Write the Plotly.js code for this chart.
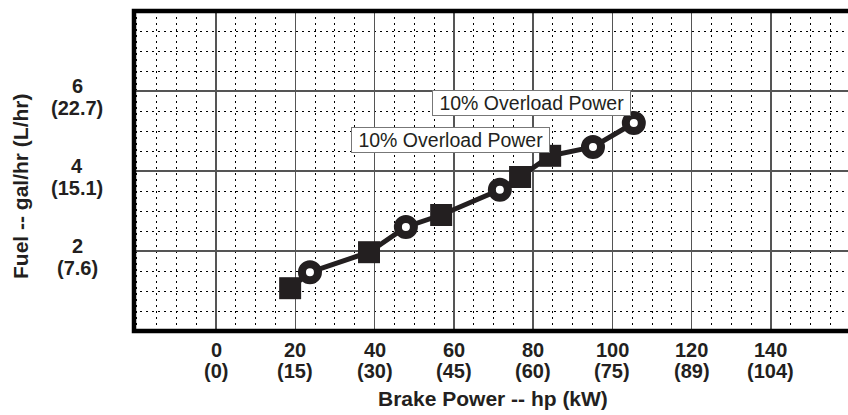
<!DOCTYPE html>
<html>
<head>
<meta charset="utf-8">
<script src="https://cdn.plot.ly/plotly-3.0.1.min.js"></script>
<style>html,body{margin:0;padding:0;background:#fff;}#chart{width:848px;height:415px;}</style>
</head>
<body>
<div id="chart"></div>
<script>
// ---- data ----
const xTickVals = [0, 20, 40, 60, 80, 100, 120, 140];
const xTickHp   = ['0', '20', '40', '60', '80', '100', '120', '140'];
const xTickKw   = ['(0)', '(15)', '(30)', '(45)', '(60)', '(75)', '(89)', '(104)'];

const yTickVals = [2, 4, 6];
const yTickGal  = ['2', '4', '6'];
const yTickL    = ['(7.6)', '(15.1)', '(22.7)'];

const squaresHp   = [18.7, 38.6, 56.8, 76.7, 84.3];
const squaresFuel = [1.07, 1.97, 2.90, 3.85, 4.38];

const circlesHp   = [23.7, 47.9, 71.6, 95.1, 105.4];
const circlesFuel = [1.47, 2.60, 3.53, 4.60, 5.20];

const overloadLabel = '10% Overload Power';
const xTitle = 'Brake Power -- hp (kW)';
const yTitle = 'Fuel -- gal/hr (L/hr)';

// ---- build ----
const FONT = '"Liberation Sans", Arial, Helvetica, sans-serif';
const INK = '#231f20';
const tickFont = {family: FONT, size: 20, color: INK, weight: 'bold'};

const merged = squaresHp.map((x, i) => [x, squaresFuel[i]])
  .concat(circlesHp.map((x, i) => [x, circlesFuel[i]]))
  .sort((a, b) => a[0] - b[0]);

const traces = [
  {x: merged.map(p => p[0]), y: merged.map(p => p[1]), mode: 'lines',
   line: {color: INK, width: 5}, hoverinfo: 'skip', showlegend: false},
  {x: squaresHp, y: squaresFuel, mode: 'markers', showlegend: false,
   marker: {symbol: 'square', size: 22, color: INK, line: {width: 0}}},
  {x: circlesHp, y: circlesFuel, mode: 'markers', showlegend: false,
   marker: {symbol: 'circle', size: 16, color: '#ffffff', line: {color: INK, width: 8}}}
];

const annotations = [];
// x tick labels: two lines each
xTickVals.forEach((v, i) => {
  annotations.push({xref: 'x', yref: 'paper', x: v, y: -(350 - 331) / 320,
    xanchor: 'center', yanchor: 'middle', showarrow: false, text: xTickHp[i], font: tickFont});
  annotations.push({xref: 'x', yref: 'paper', x: v, y: -(371 - 331) / 320,
    xanchor: 'center', yanchor: 'middle', showarrow: false, text: xTickKw[i], font: tickFont});
});
// y tick labels: two lines each, centred
yTickVals.forEach((v, i) => {
  annotations.push({xref: 'paper', yref: 'y', x: (77 - 134) / 714, y: v, yshift: 5,
    xanchor: 'center', yanchor: 'middle', showarrow: false, text: yTickGal[i], font: tickFont});
  annotations.push({xref: 'paper', yref: 'y', x: (77 - 134) / 714, y: v, yshift: -17,
    xanchor: 'center', yanchor: 'middle', showarrow: false, text: yTickL[i], font: tickFont});
});
annotations.push({xref: 'paper', yref: 'paper', x: (20 - 134) / 714, y: (331 - 187) / 320,
  xanchor: 'center', yanchor: 'middle', textangle: -90, showarrow: false,
  text: yTitle, font: {family: FONT, size: 21, color: INK, weight: 'bold'}});
annotations.push({xref: 'paper', yref: 'paper', x: (493 - 134) / 714, y: -(398 - 331) / 320,
  xanchor: 'center', yanchor: 'middle', showarrow: false,
  text: xTitle, font: {family: FONT, size: 21, color: INK, weight: 'bold'}});

// overload labels, anchored to the last point of each series
const lastSq = squaresHp.length - 1, lastCi = circlesHp.length - 1;
annotations.push({xref: 'x', yref: 'y', x: squaresHp[lastSq], y: squaresFuel[lastSq],
  xanchor: 'right', yanchor: 'bottom', yshift: 3, showarrow: false,
  text: '\u00a0' + overloadLabel + '\u00a0', bgcolor: '#ffffff', bordercolor: '#777777', borderwidth: 1, borderpad: 1,
  font: {family: FONT, size: 19.5, color: INK}});
annotations.push({xref: 'x', yref: 'y', x: circlesHp[lastCi], y: circlesFuel[lastCi],
  xanchor: 'right', yanchor: 'bottom', xshift: -3, yshift: 7, showarrow: false,
  text: '\u00a0' + overloadLabel + '\u00a0', bgcolor: '#ffffff', bordercolor: '#777777', borderwidth: 1, borderpad: 1,
  font: {family: FONT, size: 19.5, color: INK}});

const layout = {
  width: 848, height: 415,
  margin: {l: 134, r: 0, t: 11, b: 84},
  paper_bgcolor: '#ffffff', plot_bgcolor: '#ffffff',
  font: {family: FONT, color: INK},
  xaxis: {
    range: [-20.69, 159.43], tickmode: 'array', tickvals: xTickVals, showticklabels: false,
    ticks: '',
    showgrid: true, gridcolor: '#555555', gridwidth: 1.5,
    minor: {dtick: 5, tick0: 0, showgrid: true, gridcolor: '#000000', gridwidth: 1, griddash: '2px,4px'},
    zeroline: false, showline: false, fixedrange: true
  },
  yaxis: {
    range: [0, 8], tickmode: 'array', tickvals: yTickVals, showticklabels: false,
    ticks: '',
    showgrid: true, gridcolor: '#555555', gridwidth: 1.5,
    minor: {dtick: 0.5, tick0: 0, showgrid: true, gridcolor: '#000000', gridwidth: 1, griddash: '2px,4px'},
    zeroline: false, showline: false, fixedrange: true
  },
  shapes: [
    {type: 'path', xref: 'paper', yref: 'paper', layer: 'above',
     path: 'M 1.02,1 L 0,1 L 0,0 L 1.02,0', line: {color: '#000000', width: 4.5}}
  ],
  annotations: annotations,
  showlegend: false
};

Plotly.newPlot('chart', traces, layout, {displayModeBar: false, staticPlot: true});
</script>
</body>
</html>
